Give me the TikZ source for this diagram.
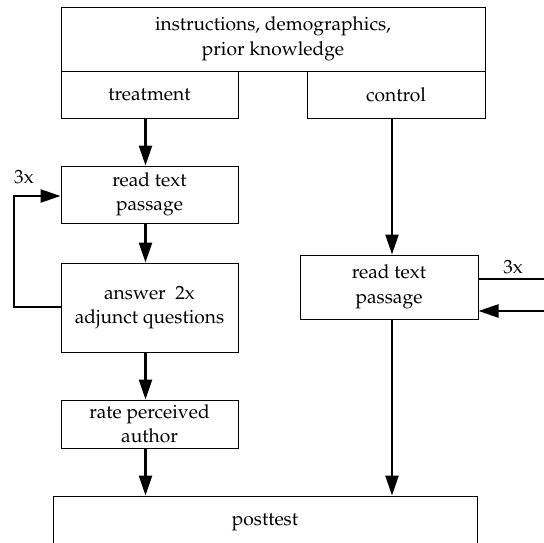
\documentclass[tikz,border=0pt]{standalone}
\usepackage[T1]{fontenc}
\usepackage{mathpazo}
\usetikzlibrary{arrows.meta}
\begin{document}
\begin{tikzpicture}[x=1pt,y=-1pt,
  blk/.style={draw, line width=1pt, align=center, inner sep=0pt,
    font=\fontsize{19.2}{24.5}\selectfont},
  conn/.style={line width=2.5pt, -{Triangle[length=20pt,width=13pt]}},
  plain/.style={line width=2.5pt},
  lbl/.style={font=\fontsize{19.2}{24.5}\selectfont, inner sep=0pt}]
\useasboundingbox (0,0) rectangle (544,542);
\clip (0,0) rectangle (544,542);
\node[blk, minimum width=424pt, minimum height=64pt] (top) at (273,39) {instructions, demographics,\\prior knowledge};
\node[blk, minimum width=177pt, minimum height=47pt] (treat) at (149.5,94.5) {treatment};
\node[blk, minimum width=178pt, minimum height=47pt] (ctrl) at (396,94.5) {control};
\node[blk, minimum width=177pt, minimum height=57pt] (readL) at (149.5,194.5) {read text\\passage};
\node[blk, minimum width=177pt, minimum height=89pt] (answer) at (149.5,307.5) {answer\enspace 2x\\adjunct questions};
\node[blk, minimum width=177pt, minimum height=48pt] (rate) at (149.5,424) {rate perceived\\author};
\node[blk, minimum width=178pt, minimum height=64pt] (readR) at (389,287) {read text\\passage};
\node[blk, minimum width=424pt, minimum height=52pt] (post) at (265,522) {posttest};
\coordinate (ax) at (145.5,0);
\coordinate (bx) at (392,0);
\coordinate (lx) at (14,0);
\coordinate (ly1) at (0,307);
\coordinate (ly2) at (0,196);
\coordinate (ry1) at (0,279);
\coordinate (ry2) at (0,311);
\coordinate (rout) at (546,279);
\coordinate (rin) at (546,311);
\draw[conn] (treat.south -| ax) -- (readL.north -| ax);
\draw[conn] (readL.south -| ax) -- (answer.north -| ax);
\draw[conn] (answer.south -| ax) -- (rate.north -| ax);
\draw[conn] (rate.south -| ax) -- (post.north -| ax);
\draw[conn] (ctrl.south -| bx) -- (readR.north -| bx);
\draw[conn] (readR.south -| bx) -- (post.north -| bx);
\draw[conn] (answer.west |- ly1) -| (lx |- ly2) -- (readL.west |- ly2);
\node[lbl] (l3a) at (24,177) {3x};
\draw[plain] (readR.east |- ry1) -- (rout);
\draw[conn] (rin) -- (readR.east |- ry2);
\node[lbl] (l3b) at (513,267) {3x};
\end{tikzpicture}
\end{document}
